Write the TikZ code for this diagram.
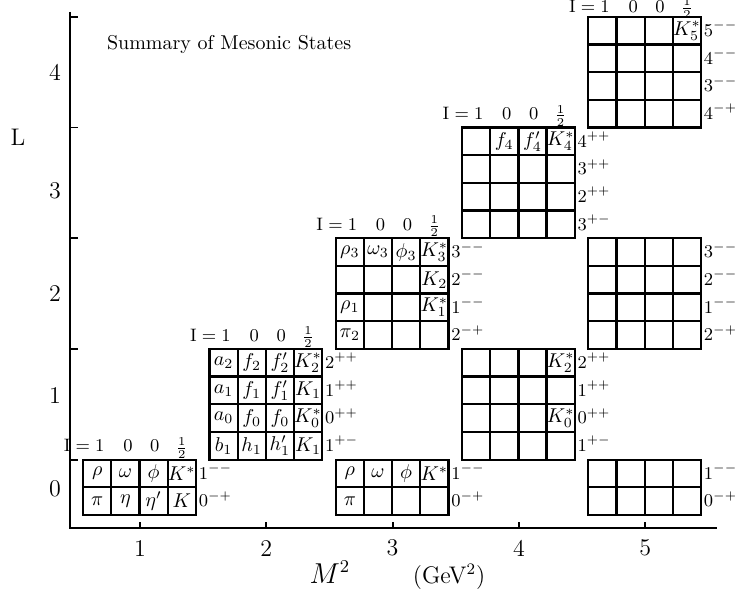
\documentclass[tikz,border=0pt]{standalone}
\usepackage{amsmath}
\usetikzlibrary{calc}

\newcommand{\cellw}{0.223}
% frame of one multiplet block: left edge, bottom, number of rows
\newcommand{\mblock}[3]{%
  \draw[blockline] (#1,#2) rectangle ({#1+4*\cellw},{#2+#3*0.25});
  \foreach \k in {1,2,3} \draw[blockline] ({#1+\k*\cellw},#2) -- ({#1+\k*\cellw},{#2+#3*0.25});
  \foreach \k in {1,...,#3} \draw[blockline] (#1,{#2+\k*0.25}) -- ({#1+4*\cellw},{#2+\k*0.25});
}
% a full row of states: name, left edge, row centre, list
\newcommand{\mrow}[4]{%
  \foreach \s [count=\i] in {#4} \node[cell] (#1-\i) at ({#2+(\i-0.5)*\cellw},#3) {$\s$};
}
% J^PC labels right of a block: name, right edge, top, list
\newcommand{\jpc}[4]{%
  \foreach \s [count=\i] in {#4} \node[jpc] (#1-j\i) at ({#2+0.02},{#3-(\i-0.5)*0.25-0.052}) {$\s$};
}
% isospin header over a block: name, left edge, top, lift
\newcommand{\ihead}[4]{%
  \node[head,anchor=base east] (#1-i1) at ({#2+0.5*\cellw+0.06},{#3+#4}) {I${}={}$1};
  \node[head,anchor=base] (#1-i2) at ({#2+1.5*\cellw+0.02},{#3+#4}) {0};
  \node[head,anchor=base] (#1-i3) at ({#2+2.5*\cellw+0.01},{#3+#4}) {0};
  \node[head,anchor=base,font=\footnotesize] (#1-i4) at ({#2+3.5*\cellw},{#3+#4}) {$\frac12$};
}

\begin{document}
\begin{tikzpicture}[x=63.15pt,y=55.35pt,
  blockline/.style={line width=1.1pt},
  cell/.style={inner sep=0pt,font=\normalsize},
  jpc/.style={anchor=base west,inner sep=0pt,font=\small},
  head/.style={inner sep=0pt,font=\small},
  axisnum/.style={font=\large}]
  \useasboundingbox (-0.1085,-0.6865) rectangle (5.711,4.652);
  % axes
  \coordinate (O) at (0.446,-0.117);
  \coordinate (ytop) at (0.446,4.544);
  \coordinate (xend) at (5.57,-0.117);
  \draw[line width=1.1pt] (ytop) -- (O) -- (xend);
  \foreach \x in {1,...,5} {
    \draw[line width=0.9pt] (\x,-0.117) -- ++(0,0.05);
    \node[axisnum] (xl\x) at (\x,-0.30) {\x};
  }
  \foreach \l in {0.5,1.5,...,4.5} \draw[line width=0.9pt] (0.446,\l) -- ++(0.065,0);
  \foreach \n/\l in {0/0.24,1/1.08,2/2.0,3/2.93,4/4.0} \node[axisnum] (yl\n) at (0.327,\l) {\n};
  \node[font=\large] (Llab) at (0.034,3.415) {L};
  \node[font=\fontsize{13.5}{16}\selectfont] (mlab) at (2.504,-0.515) {$M^2$};
  \node[font=\large] (gevlab) at (3.447,-0.56) {(GeV$^2$)};
  \node[anchor=west] (title) at (0.683,4.246) {Summary of Mesonic States};

  % L = 0, ground states
  \mblock{0.55}{0}{2}
  \mrow{sw-a}{0.55}{0.375}{\rho,\omega,\phi,K^*}
  \mrow{sw-b}{0.55}{0.125}{\pi,\eta,\eta',K}
  \jpc{sw}{1.442}{0.5}{1^{--},0^{-+}}
  \ihead{sw}{0.55}{0.5}{0.07}

  % L = 1
  \mblock{1.55}{0.5}{4}
  \mrow{pw-a}{1.55}{1.375}{a_2,f_2,f'_2,K^*_2}
  \mrow{pw-b}{1.55}{1.125}{a_1,f_1,f'_1,K_1}
  \mrow{pw-c}{1.55}{0.875}{a_0,f_0,f_0,K^*_0}
  \mrow{pw-d}{1.55}{0.625}{b_1,h_1,h'_1,K_1}
  \jpc{pw}{2.442}{1.5}{2^{++},1^{++},0^{++},1^{+-}}
  \ihead{pw}{1.55}{1.5}{0.07}

  % L = 2
  \mblock{2.55}{1.5}{4}
  \mrow{dw-a}{2.55}{2.375}{\rho_3,\omega_3,\phi_3,K^*_3}
  \node[cell] (dw-b4) at ({2.55+3.5*\cellw},2.125) {$K_2$};
  \node[cell] (dw-c1) at ({2.55+0.5*\cellw},1.875) {$\rho_1$};
  \node[cell] (dw-c4) at ({2.55+3.5*\cellw},1.875) {$K^*_1$};
  \node[cell] (dw-d1) at ({2.55+0.5*\cellw},1.625) {$\pi_2$};
  \jpc{dw}{3.442}{2.5}{3^{--},2^{--},1^{--},2^{-+}}
  \ihead{dw}{2.55}{2.5}{0.07}

  % L = 0, first radial
  \mblock{2.55}{0}{2}
  \mrow{sw2-a}{2.55}{0.375}{\rho,\omega,\phi,K^*}
  \node[cell] (sw2-b1) at ({2.55+0.5*\cellw},0.125) {$\pi$};
  \jpc{sw2}{3.442}{0.5}{1^{--},0^{-+}}

  % L = 3
  \mblock{3.55}{2.5}{4}
  \node[cell] (fw-a2) at ({3.55+1.5*\cellw},3.375) {$f_4$};
  \node[cell] (fw-a3) at ({3.55+2.5*\cellw},3.375) {$f'_4$};
  \node[cell] (fw-a4) at ({3.55+3.5*\cellw},3.375) {$K^*_4$};
  \jpc{fw}{4.442}{3.5}{4^{++},3^{++},2^{++},3^{+-}}
  \ihead{fw}{3.55}{3.5}{0.07}

  % L = 1, first radial
  \mblock{3.55}{0.5}{4}
  \node[cell] (pw2-a4) at ({3.55+3.5*\cellw},1.375) {$K^*_2$};
  \node[cell] (pw2-c4) at ({3.55+3.5*\cellw},0.875) {$K^*_0$};
  \jpc{pw2}{4.442}{1.5}{2^{++},1^{++},0^{++},1^{+-}}

  % L = 4
  \mblock{4.55}{3.5}{4}
  \node[cell] (gw-a4) at ({4.55+3.5*\cellw},4.375) {$K^*_5$};
  \jpc{gw}{5.442}{4.5}{5^{--},4^{--},3^{--},4^{-+}}
  \ihead{gw}{4.55}{4.5}{0.04}

  % L = 2 and L = 0, higher radials
  \mblock{4.55}{1.5}{4}
  \jpc{dw2}{5.442}{2.5}{3^{--},2^{--},1^{--},2^{-+}}
  \mblock{4.55}{0}{2}
  \jpc{sw3}{5.442}{0.5}{1^{--},0^{-+}}
\end{tikzpicture}
\end{document}
